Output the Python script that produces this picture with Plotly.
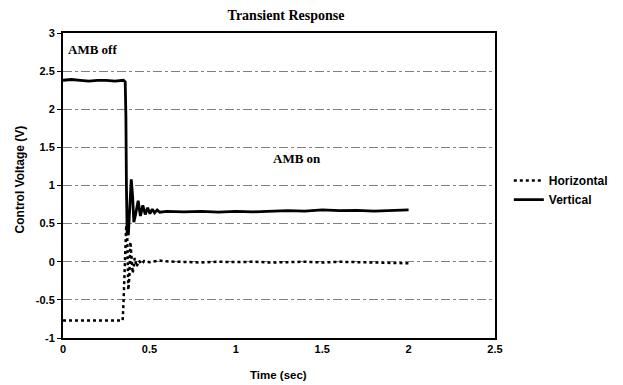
import plotly.graph_objects as go

# Vertical (solid) trace
t_vert = [0.0, 0.05, 0.1, 0.15, 0.2, 0.25, 0.3, 0.35, 0.360, 0.364, 0.367, 0.371, 0.378,
          0.386, 0.395, 0.403, 0.410, 0.420, 0.435, 0.448, 0.462, 0.476, 0.490, 0.503,
          0.517, 0.530, 0.545, 0.560, 0.6, 0.7, 0.8, 0.9, 1.0, 1.1, 1.2, 1.3, 1.4, 1.5,
          1.6, 1.7, 1.8, 1.9, 2.0]
v_vert = [2.38, 2.39, 2.38, 2.37, 2.38, 2.38, 2.37, 2.38, 2.36, 1.9, 1.0, 0.40, 0.35,
          0.70, 1.08, 0.85, 0.52, 0.62, 0.80, 0.60, 0.74, 0.62, 0.71, 0.63,
          0.69, 0.64, 0.68, 0.65, 0.66, 0.655, 0.66, 0.65, 0.66, 0.655, 0.66, 0.67, 0.665, 0.68,
          0.67, 0.675, 0.665, 0.675, 0.68]

# Horizontal (dotted) trace
t_horiz = [0.0, 0.1, 0.2, 0.3, 0.345, 0.350, 0.355, 0.360, 0.366, 0.372, 0.378, 0.384,
           0.390, 0.397, 0.403, 0.410, 0.415, 0.426, 0.440, 0.455, 0.470, 0.5, 0.56, 0.6,
           0.7, 0.8, 0.9, 1.0, 1.1, 1.2, 1.3, 1.4, 1.5, 1.6, 1.7, 1.8, 1.9, 2.0]
v_horiz = [-0.77, -0.77, -0.77, -0.77, -0.77, -0.55, -0.2, 0.2, 0.48, 0.3, -0.37, -0.2,
           0.26, 0.05, -0.15, -0.05, 0.05, -0.065, 0.014, -0.03, 0.01, -0.005, 0.015, 0.005,
           0.0, -0.01, 0.0, -0.005, 0.0, -0.01, -0.005, 0.0, -0.01, 0.0, -0.005, -0.01, -0.01, -0.02]

x_ticks = [0, 0.5, 1, 1.5, 2, 2.5]
x_tick_labels = ["0", "0.5", "1", "1.5", "2", "2.5"]
y_ticks = [-1, -0.5, 0, 0.5, 1, 1.5, 2, 2.5, 3]
y_tick_labels = ["-1", "-0.5", "0", "0.5", "1", "1.5", "2", "2.5", "3"]

# the page body adds an 8px margin, so the figure is sized 8px smaller
W, H = 615, 377
L, R, T, B = 55, 128, 25, 47

fig = go.Figure()
fig.add_trace(go.Scatter(x=t_horiz, y=v_horiz, mode="lines", name="Horizontal",
                         line=dict(color="black", width=2.5, dash="dot")))
fig.add_trace(go.Scatter(x=t_vert, y=v_vert, mode="lines", name="Vertical",
                         line=dict(color="black", width=2.8)))

fig.add_annotation(x=0.015, y=2.78, text="<b>AMB off</b>", showarrow=False, xanchor="left",
                   font=dict(family="Liberation Serif", size=13, color="black"))
fig.add_annotation(x=1.205, y=1.35, text="<b>AMB on</b>", showarrow=False, xanchor="left",
                   font=dict(family="Liberation Serif", size=13, color="black"))

# axis titles as paper annotations
fig.add_annotation(xref="paper", yref="paper", x=-0.0995, y=0.52, text="<b>Control Voltage (V)</b>",
                   textangle=-90, showarrow=False, xanchor="center", yanchor="middle",
                   font=dict(family="Liberation Sans", size=12, color="black"))
fig.add_annotation(xref="paper", yref="paper", x=0.498, y=-0.121, text="<b>Time (sec)</b>",
                   showarrow=False, xanchor="center", yanchor="middle",
                   font=dict(family="Liberation Sans", size=11.5, color="black"))

fig.update_layout(
    width=W, height=H,
    margin=dict(l=L, r=R, t=T, b=B, autoexpand=False),
    paper_bgcolor="white", plot_bgcolor="white",
    title=dict(text="<b>Transient Response</b>", x=(L + 223) / W, xanchor="center",
               y=1 - 7 / H, yanchor="middle",
               font=dict(family="Liberation Serif", size=14, color="black")),
    font=dict(family="Liberation Sans", size=11, color="black"),
    legend=dict(x=1.032, y=0.485, xanchor="left", yanchor="middle",
                font=dict(family="Liberation Sans", size=12, color="black", weight="bold"),
                itemwidth=30, tracegroupgap=0, bgcolor="rgba(0,0,0,0)"),
    showlegend=True,
)
fig.update_xaxes(range=[0, 2.5], tickvals=x_ticks, ticktext=x_tick_labels, automargin=False,
                 showgrid=False, zeroline=False, showline=True, linecolor="black",
                 linewidth=2, mirror=True, ticks="",
                 tickfont=dict(family="Liberation Sans", size=11, weight="bold"))
fig.update_yaxes(range=[-1, 3], tickvals=y_ticks, ticktext=y_tick_labels, automargin=False,
                 showgrid=True, gridcolor="#808080", gridwidth=1, griddash="dashdot",
                 zeroline=False, showline=True, linecolor="black", linewidth=2, mirror=True,
                 ticks="outside", ticklen=4, tickcolor="black",
                 tickfont=dict(family="Liberation Sans", size=11, weight="bold"))

fig.write_html("out.html")
